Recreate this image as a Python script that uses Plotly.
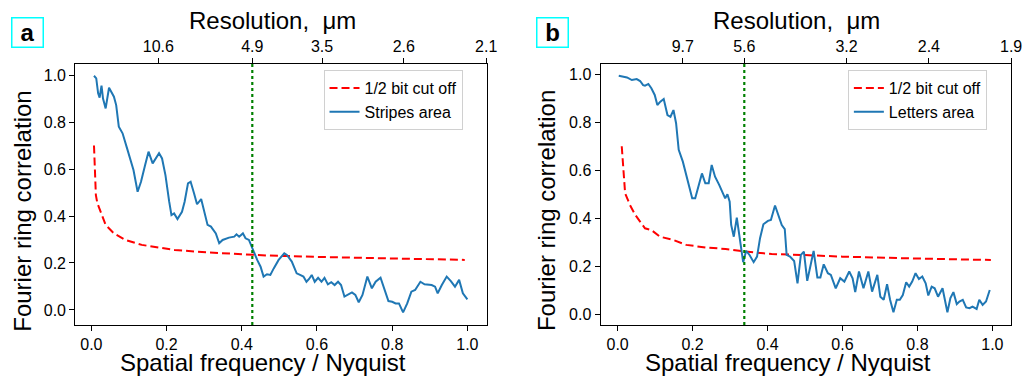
import plotly.graph_objects as go

# ---------------- Panel a data ----------------
a_freq = [0.007, 0.013, 0.018, 0.022, 0.027, 0.031, 0.038, 0.047, 0.060, 0.066,
          0.073, 0.083, 0.095, 0.104, 0.112, 0.123, 0.132, 0.143, 0.152, 0.163,
          0.180, 0.188, 0.197, 0.207, 0.213, 0.220, 0.229, 0.241, 0.248, 0.257,
          0.264, 0.273, 0.281, 0.292, 0.300, 0.309, 0.318, 0.331, 0.340, 0.349,
          0.366, 0.380, 0.386, 0.393, 0.403, 0.410, 0.419, 0.428, 0.434, 0.441,
          0.450, 0.458, 0.467, 0.476, 0.485, 0.498, 0.513, 0.520, 0.533, 0.546,
          0.555, 0.564, 0.572, 0.579, 0.586, 0.594, 0.603, 0.612, 0.620, 0.629,
          0.638, 0.647, 0.656, 0.664, 0.673, 0.682, 0.693, 0.702, 0.711, 0.721,
          0.728, 0.734, 0.746, 0.756, 0.769, 0.778, 0.790, 0.800, 0.809, 0.818,
          0.829, 0.840, 0.851, 0.861, 0.875, 0.886, 0.896, 0.905, 0.914, 0.921,
          0.932, 0.945, 0.956, 0.967, 0.978, 0.988, 1.000]
a_frc = [0.997, 0.986, 0.922, 0.904, 0.955, 0.900, 0.858, 0.946, 0.908, 0.872,
         0.780, 0.752, 0.688, 0.634, 0.596, 0.503, 0.546, 0.617, 0.674, 0.624,
         0.667, 0.645, 0.574, 0.461, 0.404, 0.411, 0.387, 0.418, 0.461, 0.539,
         0.546, 0.497, 0.450, 0.472, 0.418, 0.362, 0.355, 0.326, 0.284, 0.298,
         0.308, 0.312, 0.322, 0.312, 0.326, 0.305, 0.298, 0.263, 0.234, 0.213,
         0.184, 0.142, 0.152, 0.149, 0.177, 0.213, 0.241, 0.234, 0.206, 0.156,
         0.149, 0.142, 0.120, 0.132, 0.149, 0.120, 0.137, 0.120, 0.137, 0.109,
         0.118, 0.106, 0.120, 0.106, 0.057, 0.064, 0.075, 0.064, 0.033, 0.064,
         0.106, 0.142, 0.092, 0.120, 0.137, 0.092, 0.038, 0.035, 0.028, 0.028,
         -0.010, 0.028, 0.078, 0.085, 0.120, 0.109, 0.106, 0.106, 0.099, 0.071,
         0.106, 0.142, 0.123, 0.099, 0.128, 0.071, 0.045]
a_cut_freq = [0.007, 0.012, 0.016, 0.025, 0.038, 0.060, 0.090, 0.134, 0.178, 0.222,
              0.309, 0.428, 0.467, 0.600, 0.800, 0.993]
a_cut_val = [0.700, 0.489, 0.454, 0.418, 0.362, 0.326, 0.298, 0.277, 0.265, 0.255,
             0.245, 0.234, 0.232, 0.226, 0.219, 0.213]
a_threshold = 0.428
a_res_pos = [0.178, 0.428, 0.6135, 0.831, 1.05]
a_res_labels = ["10.6", "4.9", "3.5", "2.6", "2.1"]
a_name = "Stripes area"

# ---------------- Panel b data ----------------
b_freq = [0.003, 0.016, 0.025, 0.038, 0.051, 0.060, 0.068, 0.073, 0.082, 0.090,
          0.099, 0.106, 0.114, 0.123, 0.133, 0.141, 0.149, 0.156, 0.163, 0.174,
          0.183, 0.192, 0.199, 0.207, 0.216, 0.225, 0.234, 0.243, 0.251, 0.260,
          0.271, 0.279, 0.287, 0.293, 0.299, 0.303, 0.310, 0.318, 0.324, 0.330,
          0.335, 0.343, 0.352, 0.363, 0.372, 0.380, 0.389, 0.401, 0.409, 0.420,
          0.431, 0.438, 0.446, 0.451, 0.460, 0.471, 0.480, 0.489, 0.497, 0.506,
          0.515, 0.523, 0.533, 0.541, 0.550, 0.561, 0.569, 0.582, 0.594, 0.605,
          0.618, 0.627, 0.634, 0.644, 0.656, 0.669, 0.679, 0.693, 0.701, 0.710,
          0.719, 0.727, 0.736, 0.745, 0.753, 0.761, 0.770, 0.778, 0.786, 0.795,
          0.804, 0.813, 0.822, 0.829, 0.838, 0.846, 0.855, 0.867, 0.880, 0.888,
          0.896, 0.905, 0.912, 0.921, 0.930, 0.939, 0.947, 0.958, 0.965, 0.974,
          0.983, 0.993]
b_frc = [0.994, 0.990, 0.987, 0.976, 0.980, 0.972, 0.955, 0.953, 0.960, 0.942,
         0.914, 0.872, 0.886, 0.897, 0.830, 0.823, 0.851, 0.796, 0.685, 0.636,
         0.580, 0.518, 0.483, 0.483, 0.532, 0.587, 0.546, 0.546, 0.622, 0.573,
         0.539, 0.514, 0.483, 0.500, 0.469, 0.372, 0.323, 0.403, 0.344, 0.275,
         0.217, 0.264, 0.247, 0.217, 0.240, 0.317, 0.375, 0.389, 0.393, 0.453,
         0.400, 0.372, 0.355, 0.247, 0.240, 0.222, 0.129, 0.247, 0.261, 0.139,
         0.205, 0.264, 0.153, 0.153, 0.208, 0.171, 0.164, 0.108, 0.150, 0.136,
         0.178, 0.150, 0.092, 0.178, 0.108, 0.178, 0.094, 0.164, 0.073, 0.060,
         0.125, 0.060, 0.008, 0.060, 0.060, 0.080, 0.133, 0.115, 0.136, 0.171,
         0.147, 0.157, 0.129, 0.078, 0.115, 0.108, 0.073, 0.108, 0.008, 0.067,
         0.092, 0.042, 0.053, 0.060, 0.028, 0.025, 0.032, 0.022, 0.060, 0.039,
         0.053, 0.101]
b_cut_freq = [0.011, 0.020, 0.033, 0.047, 0.060, 0.073, 0.090, 0.113, 0.148, 0.183,
              0.235, 0.288, 0.341, 0.411, 0.490, 0.600, 0.800, 0.996]
b_cut_val = [0.700, 0.504, 0.455, 0.414, 0.386, 0.358, 0.351, 0.323, 0.310, 0.289,
             0.278, 0.272, 0.261, 0.251, 0.247, 0.240, 0.232, 0.226]
b_threshold = 0.338
b_res_pos = [0.174, 0.338, 0.611, 0.8305, 1.05]
b_res_labels = ["9.7", "5.6", "3.2", "2.4", "1.9"]
b_name = "Letters area"

x_ticks = [0.0, 0.2, 0.4, 0.6, 0.8, 1.0]
x_ticklabels = ["0.0", "0.2", "0.4", "0.6", "0.8", "1.0"]
y_ticks = [0.0, 0.2, 0.4, 0.6, 0.8, 1.0]
y_ticklabels = ["0.0", "0.2", "0.4", "0.6", "0.8", "1.0"]

W, H = 1033, 378
FONT = "Liberation Sans, Arial, sans-serif"
BLUE = "#1f77b4"


def px(x):
    return x / W


def py(y):
    return 1 - y / H


fig = go.Figure()

panels = [
    dict(sfx="", top="3", legend="legend", freq=a_freq, frc=a_frc, cf=a_cut_freq,
         cv=a_cut_val, thr=a_threshold, rp=a_res_pos, rl=a_res_labels, name=a_name,
         dom=[px(76), px(492)], xr=[-0.043, 1.0515], yr=[-0.064, 1.047]),
    dict(sfx="2", top="4", legend="legend2", freq=b_freq, frc=b_frc, cf=b_cut_freq,
         cv=b_cut_val, thr=b_threshold, rp=b_res_pos, rl=b_res_labels, name=b_name,
         dom=[px(607), px(1022)], xr=[-0.0456, 1.050], yr=[-0.045, 1.043]),
]

ydom = [py(325), py(64)]
layout = dict(
    width=W, height=H, margin=dict(l=0, r=0, t=0, b=0),
    paper_bgcolor="white", plot_bgcolor="white",
    font=dict(family=FONT, color="black", size=16),
    showlegend=True,
)
shapes = []
for p in panels:
    s = p["sfx"]
    xa = "x" + s
    ya = "y" + s
    fig.add_trace(go.Scatter(x=p["cf"], y=p["cv"], mode="lines", name="1/2 bit cut off",
                             line=dict(color="red", width=2, dash="8px,4px"),
                             xaxis=xa, yaxis=ya, legend=p["legend"]))
    fig.add_trace(go.Scatter(x=p["freq"], y=p["frc"], mode="lines", name=p["name"],
                             line=dict(color=BLUE, width=2),
                             xaxis=xa, yaxis=ya, legend=p["legend"]))
    # invisible trace on the top axis so that it is drawn
    fig.add_trace(go.Scatter(x=p["rp"], y=[None] * len(p["rp"]), mode="lines",
                             showlegend=False, hoverinfo="skip",
                             xaxis="x" + p["top"], yaxis=ya))
    common = dict(showgrid=False, zeroline=False, ticks="outside", ticklen=5,
                  tickwidth=1, tickcolor="black", linecolor="black", linewidth=1,
                  tickfont=dict(size=16, family=FONT))
    layout["xaxis" + s] = dict(domain=p["dom"], anchor=ya, range=p["xr"],
                               tickvals=x_ticks, ticktext=x_ticklabels,
                               showline=True, mirror=True, **common)
    layout["yaxis" + s] = dict(domain=ydom, anchor=xa, range=p["yr"],
                               tickvals=y_ticks, ticktext=y_ticklabels,
                               showline=True, mirror=True, **common)
    layout["xaxis" + p["top"]] = dict(overlaying=xa, anchor=ya, side="top", range=p["xr"],
                                      tickvals=p["rp"], ticktext=p["rl"], showline=True,
                                      **common)
    shapes.append(dict(type="line", xref=xa, yref=ya + " domain", x0=p["thr"], x1=p["thr"],
                       y0=0, y1=1, line=dict(color="green", width=2.2, dash="dot")))

layout["shapes"] = shapes
legend_common = dict(bgcolor="rgba(255,255,255,0.8)", bordercolor="#d0d0d0", borderwidth=1,
                     font=dict(size=16, family=FONT), xanchor="left", yanchor="top",
                     itemwidth=30, traceorder="normal", entrywidth=125,
                     entrywidthmode="pixels")
layout["legend"] = dict(x=px(327), y=py(70), **legend_common)
layout["legend2"] = dict(x=px(857), y=py(70), **legend_common)

ann = []
title_font = dict(size=24, family=FONT, color="black")
for cx in [266, 796]:
    ann.append(dict(text="Spatial frequency / Nyquist", x=px(cx), y=py(362), xref="paper",
                    yref="paper", showarrow=False, font=title_font, xanchor="center",
                    yanchor="middle"))
for cx in [275, 805]:
    ann.append(dict(text="Resolution,  μm", x=px(cx), y=py(20), xref="paper",
                    yref="paper", showarrow=False, font=title_font, xanchor="center",
                    yanchor="middle"))
for cx in [22, 552]:
    ann.append(dict(text="Fourier ring correlation", x=px(cx), y=py(211), xref="paper",
                    yref="paper", showarrow=False, font=title_font, textangle=-90,
                    xanchor="center", yanchor="middle"))
for lbl, cx in [("a", 28), ("b", 558)]:
    ann.append(dict(text="<b>" + lbl + "</b>", x=px(cx), y=py(32), xref="paper",
                    yref="paper", showarrow=False,
                    font=dict(size=24, family=FONT, color="black"),
                    xanchor="center", yanchor="middle", bordercolor="#00ffff",
                    borderwidth=1.5, borderpad=0, bgcolor="white", width=30, height=28))
layout["annotations"] = ann

fig.update_layout(**layout)
fig.write_html("out.html", config={"displayModeBar": False},
               post_script="document.body.style.margin='0px';")
